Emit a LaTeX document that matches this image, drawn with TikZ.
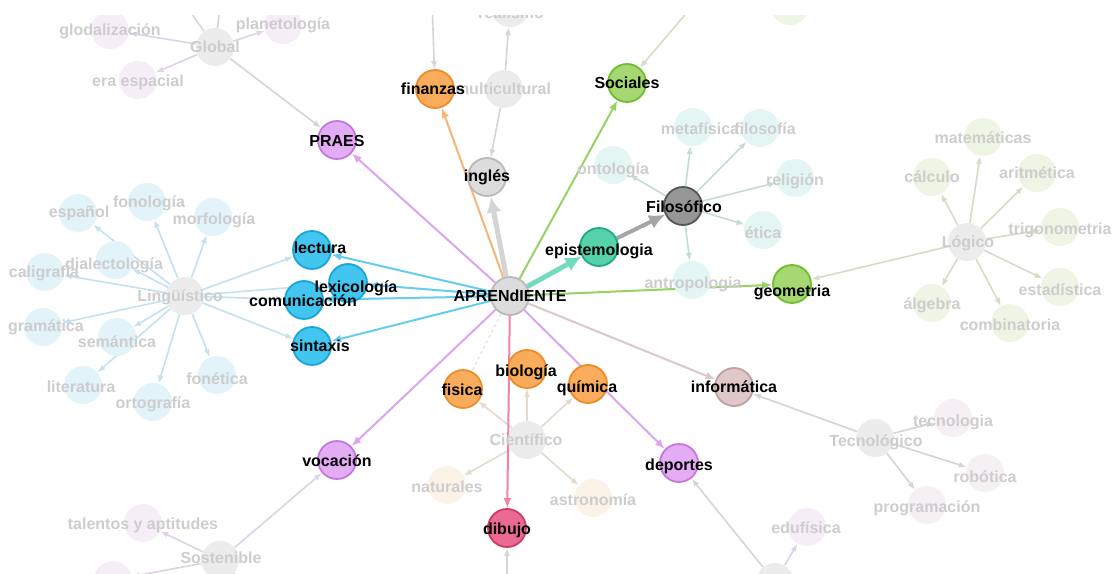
\documentclass[tikz,border=0pt]{standalone}
\usepackage{fontspec}
\setmainfont{Liberation Sans}
\usetikzlibrary{arrows.meta}
\pgfdeclarelayer{edges}
\pgfdeclarelayer{fl}
\pgfdeclarelayer{mn}
\pgfdeclarelayer{ml}
\pgfdeclarelayer{top}
\pgfsetlayers{edges,main,fl,mn,ml,top}
% main node colours
\definecolor{purF}{RGB}{228,172,245}
\definecolor{purD}{RGB}{196,120,220}
\definecolor{purE}{RGB}{220,165,240}
\definecolor{bluF}{RGB}{66,198,240}
\definecolor{bluD}{RGB}{25,165,215}
\definecolor{bluE}{RGB}{100,205,240}
\definecolor{oraF}{RGB}{248,172,92}
\definecolor{oraD}{RGB}{238,140,40}
\definecolor{oraE}{RGB}{245,180,120}
\definecolor{grnF}{RGB}{165,215,115}
\definecolor{grnD}{RGB}{110,190,45}
\definecolor{grnE}{RGB}{150,210,100}
\definecolor{teaF}{RGB}{85,210,170}
\definecolor{teaD}{RGB}{30,170,135}
\definecolor{teaE}{RGB}{115,220,190}
\definecolor{dgrF}{RGB}{150,150,150}
\definecolor{dgrD}{RGB}{85,85,85}
\definecolor{dgrE}{RGB}{165,165,165}
\definecolor{lgrF}{RGB}{220,220,220}
\definecolor{lgrD}{RGB}{185,185,185}
\definecolor{lgrE}{RGB}{212,212,212}
\definecolor{infF}{RGB}{225,200,200}
\definecolor{infD}{RGB}{190,160,160}
\definecolor{infE}{RGB}{220,200,200}
\definecolor{pnkF}{RGB}{236,105,145}
\definecolor{pnkD}{RGB}{205,60,100}
\definecolor{pnkE}{RGB}{240,130,165}
% faded colours
\definecolor{ftext}{RGB}{205,205,205}
\definecolor{fcen}{RGB}{236,236,236}
\definecolor{fblu}{RGB}{226,243,250}
\definecolor{ftea}{RGB}{228,246,243}
\definecolor{fgrn}{RGB}{238,245,228}
\definecolor{fpur}{RGB}{245,238,247}
\definecolor{fora}{RGB}{252,243,232}
\definecolor{fros}{RGB}{245,240,243}
\definecolor{eblu}{RGB}{195,225,238}
\definecolor{etea}{RGB}{195,220,215}
\definecolor{egrn}{RGB}{210,222,198}
\definecolor{epur}{RGB}{222,210,228}
\definecolor{eora}{RGB}{228,218,205}
\definecolor{egry}{RGB}{215,212,214}
\tikzset{
 nd/.style={circle, minimum size=38pt, inner sep=0pt, line width=1.8pt},
 fnd/.style={circle, minimum size=38pt, inner sep=0pt, draw=none},
 lab/.style={font=\bfseries\fontsize{16}{18}\selectfont, text=black, inner sep=0pt},
 flab/.style={font=\bfseries\fontsize{16}{18}\selectfont, text=ftext, inner sep=0pt},
 me/.style={line width=2pt, -{Latex[length=10pt,width=8pt]}},
 thk/.style={line width=5pt, -{Latex[length=16pt,width=15pt]}},
 fe/.style={line width=1.6pt, -{Latex[length=8pt,width=6pt]}},
}
\begin{document}
\begin{tikzpicture}[x=1pt,y=-1pt]
\useasboundingbox (0,0) rectangle (1118,573);
% ---------- faded nodes ----------
\node[fnd,fill=fcen] (mul) at (504,89) {};
\node[fnd,fill=fcen] (rel) at (510,8) {};
\node[fnd,fill=fgrn] (topr) at (790,6) {};
\node[fnd,fill=fcen] (glo) at (215,47) {};
\node[fnd,fill=fpur] (gld) at (110,30) {};
\node[fnd,fill=fpur] (pla) at (283,25) {};
\node[fnd,fill=fpur] (era) at (138,80) {};
\node[fnd,fill=fcen] (lin) at (185,296) {};
\node[fnd,fill=fblu] (fon) at (147,202) {};
\node[fnd,fill=fblu] (esp) at (78,213) {};
\node[fnd,fill=fblu] (mor) at (213,217) {};
\node[fnd,fill=fblu] (dia) at (115,260) {};
\node[fnd,fill=fblu] (cal) at (45,272) {};
\node[fnd,fill=fblu] (gra) at (43,327) {};
\node[fnd,fill=fblu] (sem) at (117,337) {};
\node[fnd,fill=fblu] (lit) at (83,385) {};
\node[fnd,fill=fblu] (ort) at (153,402) {};
\node[fnd,fill=fblu] (fot) at (217,375) {};
\node[fnd,fill=ftea] (met) at (693,127) {};
\node[fnd,fill=ftea] (flo) at (760,128) {};
\node[fnd,fill=ftea] (ont) at (613,165) {};
\node[fnd,fill=ftea] (rlg) at (795,178) {};
\node[fnd,fill=ftea] (eti) at (763,230) {};
\node[fnd,fill=ftea] (ant) at (692,280) {};
\node[fnd,fill=fcen] (log) at (967,242) {};
\node[fnd,fill=fgrn] (mat) at (983,137) {};
\node[fnd,fill=fgrn] (clc) at (932,177) {};
\node[fnd,fill=fgrn] (ari) at (1037,173) {};
\node[fnd,fill=fgrn] (tri) at (1060,227) {};
\node[fnd,fill=fgrn] (est) at (1060,287) {};
\node[fnd,fill=fgrn] (cmb) at (1010,323) {};
\node[fnd,fill=fgrn] (alg) at (932,303) {};
\node[fnd,fill=fcen] (tec) at (875,438) {};
\node[fnd,fill=fros] (tcn) at (953,418) {};
\node[fnd,fill=fros] (rob) at (985,473) {};
\node[fnd,fill=fros] (pro) at (927,505) {};
\node[fnd,fill=fpur] (edu) at (807,527) {};
\node[fnd,fill=fcen] (bot) at (775,582) {};
\node[fnd,fill=fcen] (cie) at (527,440) {};
\node[fnd,fill=fora] (nat) at (447,485) {};
\node[fnd,fill=fora] (ast) at (593,498) {};
\node[fnd,fill=fcen] (sos) at (220,560) {};
\node[fnd,fill=fpur] (tal) at (143,523) {};
\node[fnd,fill=fpur] (bl) at (113,580) {};
\coordinate (gt1) at (182,0);
\coordinate (gt2) at (221,0);
\coordinate (ft) at (432,0);
\coordinate (st) at (706,-10);
\coordinate (db) at (507,600);
\coordinate (sb) at (262,600);
% ---------- main nodes ----------
\begin{pgfonlayer}{mn}
\node[nd,fill=lgrF,draw=lgrD] (A) at (510,296) {};
\node[nd,fill=oraF,draw=oraD] (fin) at (435,89) {};
\node[nd,fill=lgrF,draw=lgrD] (ing) at (487,177) {};
\node[nd,fill=grnF,draw=grnD] (soc) at (627,83) {};
\node[nd,fill=purF,draw=purD] (pra) at (337,140) {};
\node[nd,fill=bluF,draw=bluD] (lec) at (312,250) {};
\node[nd,fill=bluF,draw=bluD] (com) at (304,300) {};
\node[nd,fill=bluF,draw=bluD] (lex) at (348,283) {};
\node[nd,fill=bluF,draw=bluD] (sin) at (312,346) {};
\node[nd,fill=teaF,draw=teaD] (epi) at (599,247) {};
\node[nd,fill=dgrF,draw=dgrD] (fil) at (683,206) {};
\node[nd,fill=grnF,draw=grnD] (geo) at (792,284) {};
\node[nd,fill=infF,draw=infD] (inf) at (734,387) {};
\node[nd,fill=purF,draw=purD] (dep) at (679,463) {};
\node[nd,fill=pnkF,draw=pnkD] (dib) at (507,528) {};
\node[nd,fill=oraF,draw=oraD] (fis) at (463,389) {};
\node[nd,fill=oraF,draw=oraD] (bio) at (527,369) {};
\node[nd,fill=oraF,draw=oraD] (qui) at (588,384) {};
\node[nd,fill=purF,draw=purD] (voc) at (337,460) {};
\end{pgfonlayer}
% ---------- faded labels ----------
\begin{pgfonlayer}{fl}
\node[flab] at (503,89) {multicultural};
\node[flab] at (511,13) {realismo};
\node[flab] at (215,47) {Global};
\node[flab] at (110,31) {glodalización};
\node[flab] at (283,25) {planetología};
\node[flab] at (138,82) {era espacial};
\node[flab] at (180,297) {Lingüístico};
\node[flab] at (149,203) {fonología};
\node[flab] at (79,213) {español};
\node[flab] at (214,220) {morfología};
\node[flab] at (114,265) {dialectología};
\node[flab] at (44,273) {caligrafía};
\node[flab] at (46,327) {gramática};
\node[flab] at (117,342) {semántica};
\node[flab] at (81,387) {literatura};
\node[flab] at (153,404) {ortografía};
\node[flab] at (217,379) {fonética};
\node[flab] at (700,129) {metafísica};
\node[flab] at (765,129) {filosofía};
\node[flab] at (613,170) {ontología};
\node[flab] at (795,181) {religión};
\node[flab] at (763,233) {ética};
\node[flab] at (693,284) {antropologia};
\node[flab] at (968,243) {Lógico};
\node[flab] at (983,138) {matemáticas};
\node[flab] at (932,177) {cálculo};
\node[flab] at (1037,173) {aritmética};
\node[flab] at (1060,230) {trigonometria};
\node[flab] at (1060,290) {estadística};
\node[flab] at (1010,325) {combinatoria};
\node[flab] at (932,305) {álgebra};
\node[flab] at (876,442) {Tecnológico};
\node[flab] at (953,422) {tecnologia};
\node[flab] at (985,477) {robótica};
\node[flab] at (927,508) {programación};
\node[flab] at (806,528) {edufísica};
\node[flab] at (526,440) {Científico};
\node[flab] at (447,487) {naturales};
\node[flab] at (593,500) {astronomía};
\node[flab] at (221,558) {Sostenible};
\node[flab] at (143,525) {talentos y aptitudes};
\end{pgfonlayer}
% ---------- main labels ----------
\begin{pgfonlayer}{ml}
\node[lab] at (510,296) {APRENdIENTE};
\node[lab] at (433,89) {finanzas};
\node[lab] at (487,177) {inglés};
\node[lab] at (627,83) {Sociales};
\node[lab] at (337,141) {PRAES};
\node[lab] at (320,248) {lectura};
\node[lab] at (303,301) {comunicación};
\node[lab] at (356,288) {lexicología};
\node[lab] at (320,346) {sintaxis};
\node[lab] at (599,251) {epistemologia};
\node[lab] at (684,207) {Filosófico};
\node[lab] at (792,292) {geometria};
\node[lab] at (734,387) {informática};
\node[lab] at (679,466) {deportes};
\node[lab] at (507,530) {dibujo};
\node[lab] at (462,390) {fisica};
\node[lab] at (526,372) {biología};
\node[lab] at (587,388) {química};
\node[lab] at (337,461) {vocación};
\end{pgfonlayer}
% ---------- edges ----------
\begin{pgfonlayer}{edges}
% faded
\draw[fe,draw=epur] (glo) -- (gld);
\draw[fe,draw=epur] (glo) -- (pla);
\draw[fe,draw=epur] (glo) -- (era);
\draw[fe,draw=egry] (glo) -- (pra);
\draw[line width=1.6pt,draw=epur] (glo) -- (gt1);
\draw[line width=1.6pt,draw=egry] (glo) -- (gt2);
\foreach \t in {fon,esp,mor,dia,cal,gra,sem,lit,ort,fot,lec,lex,com,sin}
  \draw[fe,draw=eblu] (lin) -- (\t);
\foreach \t in {met,flo,ont,rlg,eti,ant}
  \draw[fe,draw=etea] (fil) -- (\t);
\foreach \t in {mat,clc,ari,tri,est,cmb,alg,geo}
  \draw[fe,draw=egrn] (log) -- (\t);
\foreach \t in {tcn,rob,pro,inf}
  \draw[fe,draw=egry] (tec) -- (\t);
\foreach \t in {fis,bio,qui,nat,ast}
  \draw[fe,draw=eora] (cie) -- (\t);
\foreach \t in {voc,tal,bl}
  \draw[fe,draw=epur] (sos) -- (\t);
\draw[line width=1.6pt,draw=epur] (sos) -- (sb);
\draw[fe,draw=egry] (bot) -- (dep);
\draw[fe,draw=epur] (bot) -- (edu);
\draw[fe,draw=egry] (mul) -- (ing);
\draw[fe,draw=egry] (mul) -- (rel);
\draw[fe,draw=egry] (ft) -- (fin);
\draw[fe,draw=egrn] (st) -- (soc);
\draw[fe,draw=egry] (db) -- (dib);
\draw[line width=1pt,draw=eora,dashed] (A) -- (fis);
% main
\draw[me,draw=purE] (A) -- (pra);
\draw[me,draw=purE] (A) -- (voc);
\draw[me,draw=purE] (A) -- (dep);
\draw[me,draw=bluE] (A) -- (lec);
\draw[me,draw=bluE] (A) -- (lex);
\draw[me,draw=bluE] (A) -- (com);
\draw[me,draw=bluE] (A) -- (sin);
\draw[me,draw=oraE] (A) -- (fin);
\draw[thk,draw=lgrE] (A) -- (ing);
\draw[me,draw=grnE] (A) -- (soc);
\draw[thk,draw=teaE] (A) -- (epi);
\draw[thk,line width=4pt,draw=dgrE] (epi) -- (fil);
\draw[me,draw=grnE] (A) -- (geo);
\draw[me,draw=infE] (A) -- (inf);
\draw[me,draw=pnkE] (A) -- (dib);
\end{pgfonlayer}
\begin{pgfonlayer}{top}
\fill[white] (-5,-5) rectangle (1123,15);
\end{pgfonlayer}
\end{tikzpicture}
\end{document}
